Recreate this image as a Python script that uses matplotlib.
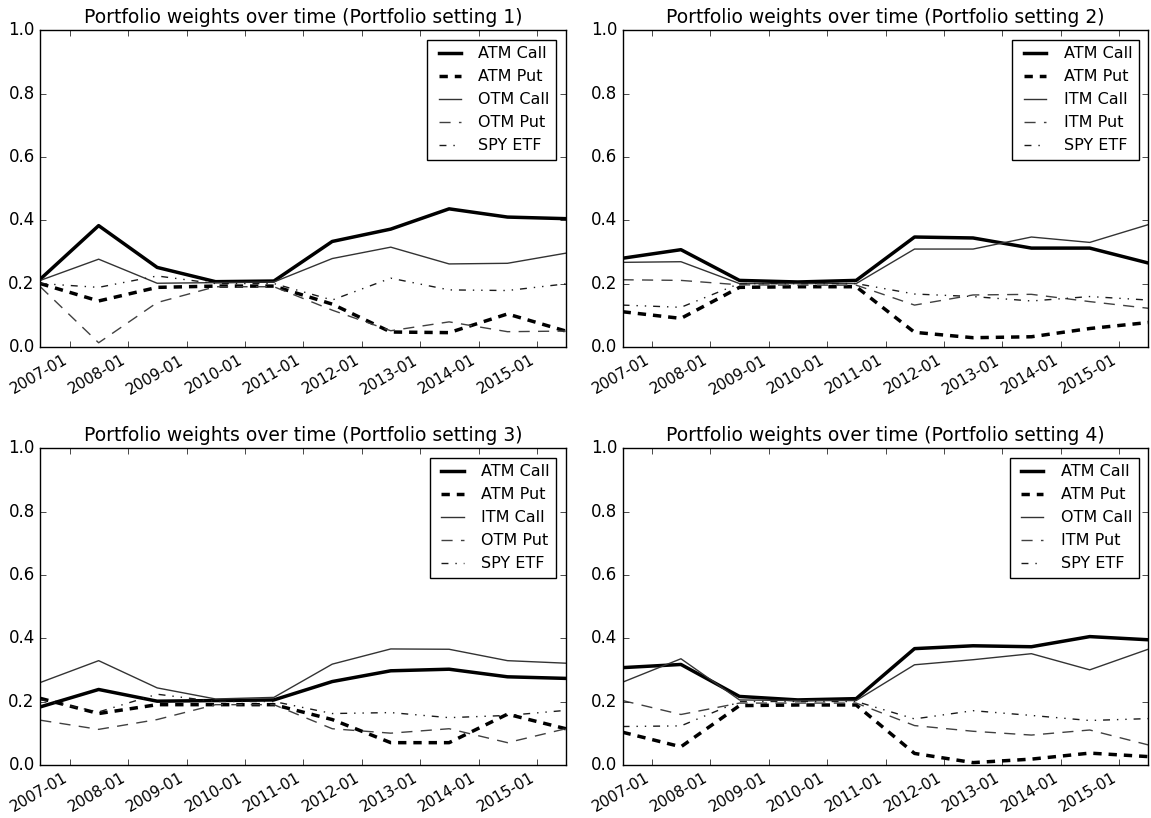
import matplotlib
matplotlib.use('Agg')
from matplotlib import pyplot as plt
import matplotlib.dates as mdates
import pandas as pd

# rebalancing dates (yearly)
dates = pd.to_datetime(['2006-07-01', '2007-07-01', '2008-07-01', '2009-07-01',
                        '2010-07-01', '2011-07-01', '2012-07-01', '2013-07-01',
                        '2014-07-01', '2015-07-01'])

# setting 1
s1_labels = ['ATM Call', 'ATM Put', 'OTM Call', 'OTM Put', 'SPY ETF']
s1_atm_call = [0.214, 0.383, 0.251, 0.206, 0.208, 0.333, 0.372, 0.436, 0.410, 0.405]
s1_atm_put = [0.200, 0.145, 0.188, 0.192, 0.192, 0.135, 0.047, 0.045, 0.104, 0.050]
s1_call2 = [0.210, 0.277, 0.201, 0.203, 0.205, 0.279, 0.315, 0.262, 0.264, 0.296]
s1_put2 = [0.190, 0.013, 0.140, 0.190, 0.190, 0.116, 0.051, 0.079, 0.048, 0.050]
s1_spy = [0.200, 0.188, 0.224, 0.200, 0.200, 0.148, 0.217, 0.180, 0.178, 0.199]

# setting 2
s2_labels = ['ATM Call', 'ATM Put', 'ITM Call', 'ITM Put', 'SPY ETF']
s2_atm_call = [0.280, 0.307, 0.210, 0.205, 0.210, 0.347, 0.344, 0.312, 0.312, 0.265]
s2_atm_put = [0.111, 0.090, 0.188, 0.190, 0.190, 0.046, 0.029, 0.032, 0.058, 0.077]
s2_call2 = [0.267, 0.269, 0.200, 0.200, 0.200, 0.309, 0.309, 0.347, 0.330, 0.386]
s2_put2 = [0.212, 0.210, 0.196, 0.195, 0.195, 0.132, 0.164, 0.166, 0.143, 0.122]
s2_spy = [0.132, 0.125, 0.200, 0.200, 0.200, 0.167, 0.159, 0.145, 0.159, 0.148]

# setting 3
s3_labels = ['ATM Call', 'ATM Put', 'ITM Call', 'OTM Put', 'SPY ETF']
s3_atm_call = [0.183, 0.238, 0.201, 0.203, 0.205, 0.263, 0.297, 0.302, 0.278, 0.273]
s3_atm_put = [0.210, 0.162, 0.190, 0.190, 0.190, 0.143, 0.070, 0.070, 0.160, 0.114]
s3_call2 = [0.260, 0.329, 0.243, 0.208, 0.213, 0.318, 0.366, 0.365, 0.329, 0.321]
s3_put2 = [0.141, 0.112, 0.143, 0.190, 0.190, 0.114, 0.100, 0.114, 0.070, 0.114]
s3_spy = [0.206, 0.167, 0.223, 0.200, 0.200, 0.162, 0.165, 0.149, 0.156, 0.172]

# setting 4
s4_labels = ['ATM Call', 'ATM Put', 'OTM Call', 'ITM Put', 'SPY ETF']
s4_atm_call = [0.307, 0.317, 0.216, 0.205, 0.209, 0.367, 0.376, 0.373, 0.405, 0.395]
s4_atm_put = [0.103, 0.057, 0.187, 0.189, 0.189, 0.036, 0.007, 0.018, 0.037, 0.026]
s4_call2 = [0.261, 0.335, 0.205, 0.203, 0.203, 0.316, 0.332, 0.351, 0.300, 0.365]
s4_put2 = [0.203, 0.159, 0.195, 0.195, 0.195, 0.124, 0.106, 0.094, 0.110, 0.063]
s4_spy = [0.121, 0.123, 0.200, 0.200, 0.200, 0.145, 0.171, 0.156, 0.140, 0.146]

settings = [
    (s1_labels, [s1_atm_call, s1_atm_put, s1_call2, s1_put2, s1_spy]),
    (s2_labels, [s2_atm_call, s2_atm_put, s2_call2, s2_put2, s2_spy]),
    (s3_labels, [s3_atm_call, s3_atm_put, s3_call2, s3_put2, s3_spy]),
    (s4_labels, [s4_atm_call, s4_atm_put, s4_call2, s4_put2, s4_spy]),
]

# line styles, in series order
styles = [
    dict(color='black', lw=2.5, ls='-'),
    dict(color='black', lw=2.5, dashes=(6, 5)),
    dict(color='0.2', lw=1.0, ls='-'),
    dict(color='0.25', lw=1.0, dashes=(8, 6)),
    dict(color='0.1', lw=1.0, dashes=(5, 5, 1, 5, 1, 5)),
]

plt.style.use('classic')
plt.rcParams['figure.facecolor'] = 'white'
plt.rcParams['savefig.facecolor'] = 'white'
plt.rcParams['font.size'] = 12

fig, axes = plt.subplots(2, 2, figsize=(11.51, 8.18), dpi=100)
fig.subplots_adjust(left=0.035, right=0.9975, top=0.963, bottom=0.065,
                    wspace=0.108, hspace=0.32)

for i, (ax, (labels, series)) in enumerate(zip(axes.flat, settings)):
    for lab, vals, st in zip(labels, series, styles):
        ax.plot(dates, vals, label=lab, **st)
    ax.set_xlim(dates[0], dates[-1])
    ax.set_ylim(0, 1.0)
    ax.set_yticks([0.0, 0.2, 0.4, 0.6, 0.8, 1.0])
    ax.xaxis.set_major_locator(mdates.YearLocator())
    ax.xaxis.set_major_formatter(mdates.DateFormatter('%Y-%m'))
    for lbl in ax.get_xticklabels():
        lbl.set_rotation(30)
        lbl.set_ha('right')
        lbl.set_fontsize(11)
    ax.set_title('Portfolio weights over time (Portfolio setting %i)' % (i + 1),
                 fontsize=13.5)
    ax.legend(loc='upper right', fontsize=11.5, borderaxespad=0.6)

fig.savefig('out.png', dpi=100)
